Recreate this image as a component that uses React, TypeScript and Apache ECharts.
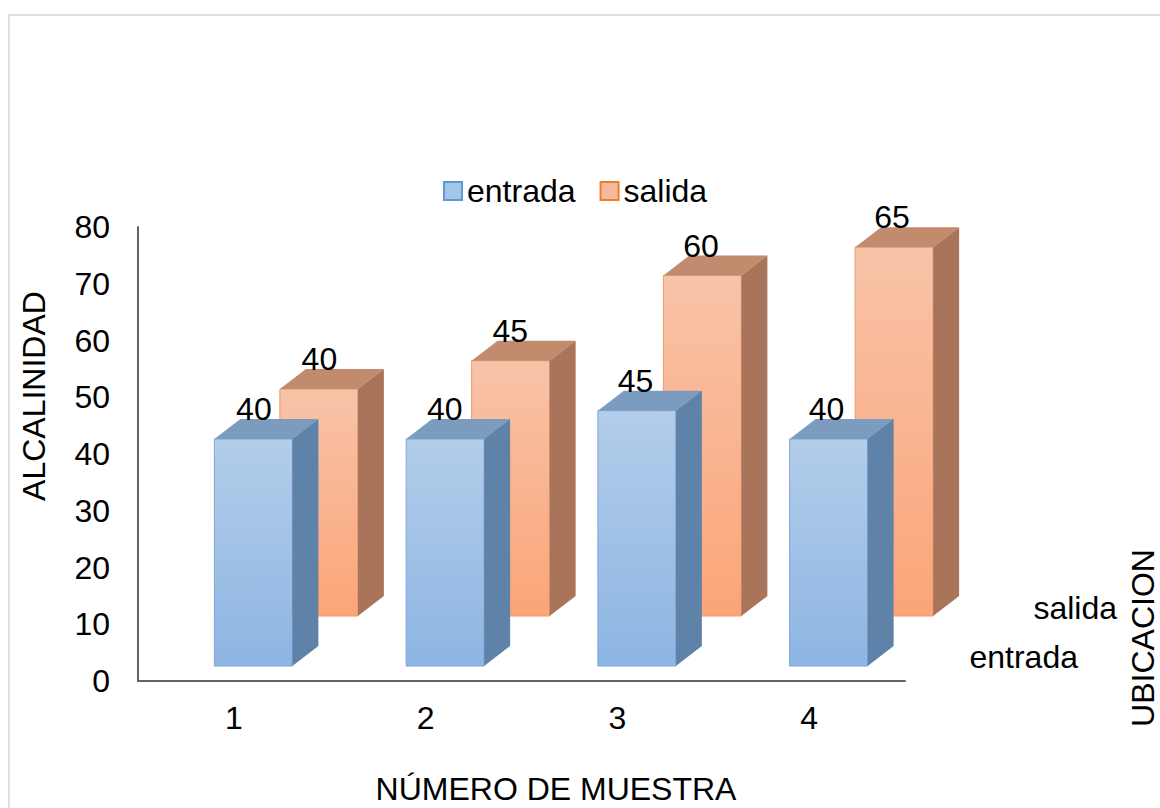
import React, { useEffect, useRef } from "react";
import * as echarts from "echarts";

const categories = ["1", "2", "3", "4"];
const entrada = [40, 40, 45, 40];
const salida = [40, 45, 60, 65];
const seriesNames = ["entrada", "salida"];
const depthLabels = ["salida", "entrada"];
const yTicks = [0, 10, 20, 30, 40, 50, 60, 70, 80];
const xTitle = "NÚMERO DE MUESTRA";
const yTitle = "ALCALINIDAD";
const depthTitle = "UBICACION";

const FONT = '"Liberation Sans", Arial, sans-serif';
const FONT_SIZE = 32;
const BAR_WIDTH = 78;
const DEPTH_X = 26;
const DEPTH_Y = 20;

type Palette = { frontTop: string; frontBottom: string; side: string; top: string; edge: string };

const bluePalette: Palette = {
  frontTop: "#b3cdea",
  frontBottom: "#8db5e3",
  side: "#5f83a8",
  top: "#7c9cbf",
  edge: "#7fa6d6",
};
const orangePalette: Palette = {
  frontTop: "#f8c3a8",
  frontBottom: "#fba578",
  side: "#a9745a",
  top: "#c28b6e",
  edge: "#e99a70",
};

// Draws one pseudo-3D column: front face, top face, side face and its value.
function makeBox(palette: Palette, xShift: number, lift: number) {
  return (params: any, api: any) => {
    const value = api.value(1);
    const axisPoint = api.coord([api.value(0), 0]);
    const height = api.size([0, value])[1];
    const left = axisPoint[0] + xShift - BAR_WIDTH / 2;
    const right = left + BAR_WIDTH;
    const bottom = axisPoint[1] - lift;
    const top = bottom - height;
    const front = new echarts.graphic.LinearGradient(0, 0, 0, 1, [
      { offset: 0, color: palette.frontTop },
      { offset: 1, color: palette.frontBottom },
    ]);
    return {
      type: "group",
      children: [
        {
          type: "rect",
          shape: { x: left, y: top, width: BAR_WIDTH, height },
          style: { fill: front, stroke: palette.edge, lineWidth: 1 },
        },
        {
          type: "polygon",
          shape: {
            points: [
              [left, top],
              [left + DEPTH_X, top - DEPTH_Y],
              [right + DEPTH_X, top - DEPTH_Y],
              [right, top],
            ],
          },
          style: { fill: palette.top },
        },
        {
          type: "polygon",
          shape: {
            points: [
              [right, top],
              [right + DEPTH_X, top - DEPTH_Y],
              [right + DEPTH_X, bottom - DEPTH_Y],
              [right, bottom],
            ],
          },
          style: { fill: palette.side },
        },
        {
          type: "text",
          z2: 100,
          style: {
            // the value sits slightly further left on each later category
            x: left + BAR_WIDTH / 2 + 0.5 - api.value(0) * 0.9,
            y: top - 30,
            text: String(value),
            fill: "#000",
            font: `${FONT_SIZE}px ${FONT}`,
            align: "center",
            verticalAlign: "middle",
          },
        },
      ],
    };
  };
}

const textStyle = (x: number, y: number, text: string, align = "center") => ({
  x,
  y,
  text,
  fill: "#000",
  font: `${FONT_SIZE}px ${FONT}`,
  align,
  verticalAlign: "middle",
});

const axisLineStyle = { color: "#636363", width: 2 };

export default function App() {
  const ref = useRef<HTMLDivElement>(null);

  useEffect(() => {
    document.body.style.margin = "0";
    const chart = echarts.init(ref.current!, undefined, { renderer: "svg" });
    chart.setOption({
      animation: false,
      backgroundColor: "#fff",
      textStyle: { fontFamily: FONT },
      grid: { left: 138, top: 227, width: 767, height: 454 },
      legend: {
        left: 438,
        top: 170,
        itemWidth: 18,
        itemHeight: 18,
        itemGap: 24,
        icon: "rect",
        textStyle: { fontSize: FONT_SIZE, color: "#000", fontFamily: FONT, padding: [0, 0, 0, 0] },
        data: [
          { name: seriesNames[0], itemStyle: { color: "#a6c4e8", borderColor: "#5b9bd5", borderWidth: 2 } },
          { name: seriesNames[1], itemStyle: { color: "#f7b99b", borderColor: "#ed7d31", borderWidth: 2 } },
        ],
      },
      xAxis: {
        type: "category",
        data: categories,
        axisLine: { lineStyle: axisLineStyle },
        axisTick: { show: false },
        axisLabel: { fontSize: FONT_SIZE, color: "#000", margin: 21, fontFamily: FONT },
      },
      yAxis: {
        type: "value",
        min: yTicks[0],
        max: yTicks[yTicks.length - 1],
        interval: 10,
        axisLine: { show: true, lineStyle: axisLineStyle },
        axisTick: { show: false },
        splitLine: { show: false },
        axisLabel: { fontSize: FONT_SIZE, color: "#000", margin: 28, fontFamily: FONT },
      },
      series: [
        {
          name: seriesNames[1],
          type: "custom",
          data: salida.map((v, i) => [i, v]),
          encode: { x: 0, y: 1 },
          renderItem: makeBox(orangePalette, 85, 65),
          z: 2,
          itemStyle: { color: "#f7b99b" },
        },
        {
          name: seriesNames[0],
          type: "custom",
          data: entrada.map((v, i) => [i, v]),
          encode: { x: 0, y: 1 },
          renderItem: makeBox(bluePalette, 19.5, 15),
          z: 3,
          itemStyle: { color: "#a6c4e8" },
        },
      ],
      graphic: [
        {
          type: "rect",
          silent: true,
          z: -1,
          shape: { x: 9, y: 15, width: 1180, height: 820 },
          style: { fill: "none", stroke: "#dfdfdf", lineWidth: 2 },
        },
        { type: "text", style: textStyle(556, 789, xTitle) },
        { type: "text", x: 34, y: 396, rotation: Math.PI / 2, style: textStyle(0, 0, yTitle) },
        { type: "text", x: 1143, y: 638, rotation: Math.PI / 2, style: textStyle(0, 0, depthTitle) },
        { type: "text", style: textStyle(1117, 608, depthLabels[0], "right") },
        { type: "text", style: textStyle(1078, 657, depthLabels[1], "right") },
      ],
    });
    return () => chart.dispose();
  }, []);

  return <div ref={ref} style={{ width: 1160, height: 808 }} />;
}
